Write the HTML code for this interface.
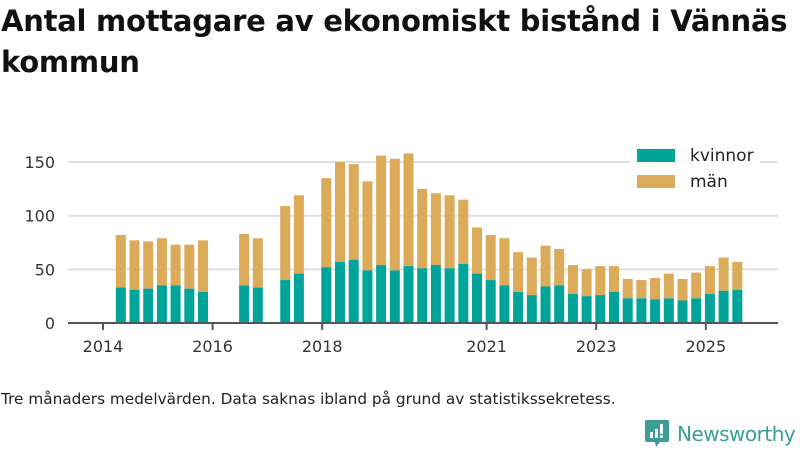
<!DOCTYPE html>
<html><head><meta charset="utf-8"><style>
body{margin:0;width:800px;height:450px;background:#fff;font-family:"DejaVu Sans","Liberation Sans",sans-serif;overflow:hidden;position:relative}
h1{position:absolute;left:1px;top:1px;margin:0;font-size:29px;line-height:41px;font-weight:bold;color:#111;letter-spacing:-0.25px}
.foot{position:absolute;left:1px;top:390px;font-size:15.3px;color:#222;letter-spacing:0px}
.logo{position:absolute;left:645px;top:420px;display:flex;align-items:center}
.logo span{font-size:20px;color:#3a9e96;margin-left:8px;letter-spacing:-0.5px}
</style></head><body>
<h1>Antal mottagare av ekonomiskt bistånd i Vännäs<br>kommun</h1>
<svg id="chart" width="800" height="380" style="position:absolute;left:0;top:0" font-family="DejaVu Sans, Liberation Sans, sans-serif"></svg>
<div class="foot">Tre månaders medelvärden. Data saknas ibland på grund av statistikssekretess.</div>
<div class="logo">
<svg width="24" height="27" viewBox="0 0 24 27"><path d="M2 0h20a2 2 0 0 1 2 2v18a2 2 0 0 1-2 2h-7l-4 5-1-5H2a2 2 0 0 1-2-2V2a2 2 0 0 1 2-2z" fill="#3a9e96"/><rect x="5" y="12" width="3" height="6" fill="#fff"/><rect x="10" y="9" width="3" height="9" fill="#fff"/><rect x="15" y="4" width="3" height="10" fill="#fff"/><rect x="15" y="15" width="3" height="3" fill="#fff"/></svg>
<span>Newsworthy</span></div>
<script>
const startYear = 2014.325;
const kvinnor = [33,31,32,35,35,32,29,null,null,35,33,null,40,46,null,52,57,59,49,54,49,53,51,54,51,55,46,40,35,29,26,34,35,27,25,26,29,23,23,22,23,21,23,27,30,31];
const totals  = [82,77,76,79,73,73,77,null,null,83,79,null,109,119,null,135,150,148,132,156,153,158,125,121,119,115,89,82,79,66,61,72,69,54,50,53,53,41,40,42,46,41,47,53,61,57];
const yTicks = [0,50,100,150];
const xTicks = [2014,2016,2018,2021,2023,2025];
const svg = document.getElementById('chart');
const NS = 'http://www.w3.org/2000/svg';
const x = t => 103 + (t - 2014) * 54.8;
const y = v => 323 - v * 1.073;
function mk(tag, attrs){const e=document.createElementNS(NS,tag);for(const k in attrs)e.setAttribute(k,attrs[k]);svg.appendChild(e);return e;}
yTicks.forEach(v=>{
  if(v>0){const g=mk('line',{x1:68,x2:778,y1:y(v),y2:y(v),stroke:'#e0e0e0','stroke-width':2});
  
  }
  const t=mk('text',{x:55,y:y(v)+6,'text-anchor':'end','font-size':16,fill:'#333'});t.textContent=v;
  
  
});
totals.forEach((tot,i)=>{
  if(tot==null)return;
  const cx=x(startYear+0.25*i), w=10;
  const m=mk('rect',{x:cx-w/2,y:y(tot),width:w,height:y(kvinnor[i])-y(tot),fill:'#dbab5a'});
  
  
  const k=mk('rect',{x:cx-w/2,y:y(kvinnor[i]),width:w,height:y(0)-y(kvinnor[i]),fill:'#00a49a'});
  
  
});
const ax=mk('line',{x1:68,x2:778,y1:323,y2:323,stroke:'#555','stroke-width':2});


xTicks.forEach(yr=>{
  const l=mk('line',{x1:x(yr),x2:x(yr),y1:323,y2:330,stroke:'#555','stroke-width':2});
  
  
  const t=mk('text',{x:x(yr),y:352,'text-anchor':'middle','font-size':16,fill:'#333'});t.textContent=yr;
  
  
});
const lb=mk('rect',{x:630,y:140,width:130,height:58,fill:'#fff'});


[['kvinnor','#00a49a',149],['män','#dbab5a',175]].forEach(([n,c,yy])=>{
  const r=mk('rect',{x:637,y:yy,width:38,height:13,fill:c});
  
  
  const t=mk('text',{x:690,y:yy+12,'font-size':17,fill:'#222'});t.textContent=n;
  
  
});
</script>
</body></html>
